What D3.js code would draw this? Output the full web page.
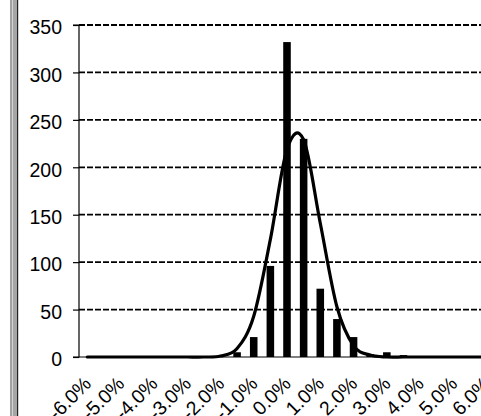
<!DOCTYPE html>
<html>
<head>
<meta charset="utf-8">
<script src="https://cdn.jsdelivr.net/npm/d3@7"></script>
<style>
html,body{margin:0;padding:0;background:#fff;}
svg{display:block;}
text{font-family:"Liberation Sans",Arial,sans-serif;font-size:19.5px;fill:#000;}
</style>
</head>
<body>
<script>
// Bin centres (return, %)
const categories = [-6.0,-5.5,-5.0,-4.5,-4.0,-3.5,-3.0,-2.5,-2.0,-1.5,-1.0,-0.5,0.0,0.5,1.0,1.5,2.0,2.5,3.0,3.5,4.0,4.5,5.0,5.5,6.0];
// Observed frequency per bin (bars)
const frequency = [0,0,0,0,0,0,0,0,0,5,21,96,332,230,72,40,21,3,5,2,0,0,0,0,0];
// Fitted normal curve read at each bin centre
const normalFit = [0,0,0,0,0,0,0,0,1,9,43,124,219,229,141,53,12,2,0,0,0,0,0,0,0];
// Axis ticks
const yTicks = [0,50,100,150,200,250,300,350];
const xTickLabels = ["-6.0%","-5.0%","-4.0%","-3.0%","-2.0%","-1.0%","0.0%","1.0%","2.0%","3.0%","4.0%","5.0%","6.0%"];

const W = 481, H = 416;
const svg = d3.select("body").append("svg").attr("width", W).attr("height", H);

const plotLeft = 79, plotRight = 495, plotTop = 25, plotBottom = 357;

const x = d3.scaleBand().domain(categories).range([plotLeft, plotRight]).paddingInner(0).paddingOuter(0);
const y = d3.scaleLinear().domain([0, 350]).range([plotBottom, plotTop]);
const cx = d => x(d) + x.bandwidth() / 2;

// left frame
svg.append("line").attr("x1",11).attr("x2",11).attr("y1",0).attr("y2",H).attr("stroke","#444").attr("stroke-width",1);
svg.append("rect").attr("x",12.5).attr("y",0).attr("width",4.5).attr("height",H).attr("fill","#a6a6a6");
svg.append("line").attr("x1",17.6).attr("x2",17.6).attr("y1",0).attr("y2",H).attr("stroke","#222").attr("stroke-width",1.2);

// gridlines
svg.append("g").selectAll("line").data(yTicks.filter(t => t > 0)).join("line")
  .attr("x1", plotLeft).attr("x2", plotRight)
  .attr("y1", d => y(d)).attr("y2", d => y(d))
  .attr("stroke", "#000").attr("stroke-width", 1.8).attr("stroke-dasharray", "6,2");

// y axis
const yAxis = d3.axisLeft(y).tickValues(yTicks).tickSize(6).tickPadding(11).tickFormat(d3.format("d"));
const gy = svg.append("g").attr("transform", `translate(${plotLeft},0)`).call(yAxis);
gy.select(".domain").attr("stroke","#000").attr("stroke-width",1.2).attr("d", `M-6,${plotBottom}H0V${plotTop}H-6`);
gy.selectAll(".tick line").attr("stroke","#000").attr("stroke-width",1.2);
gy.selectAll(".tick text").attr("dy", "0.45em");
gy.attr("font-family", null).attr("font-size", null);

// x axis line
svg.append("line").attr("x1", plotLeft).attr("x2", plotRight).attr("y1", plotBottom).attr("y2", plotBottom)
  .attr("stroke","#000").attr("stroke-width",1.2);

// bars
const barW = x.bandwidth() / 2.2;
svg.append("g").selectAll("rect").data(categories.map((c, i) => ({c, v: frequency[i]}))).join("rect")
  .attr("x", d => cx(d.c) - barW / 2)
  .attr("width", barW)
  .attr("y", d => y(d.v))
  .attr("height", d => y(0) - y(d.v))
  .attr("fill", "#000");

// normal curve
const line = d3.line().x(d => cx(d.c)).y(d => y(d.v)).curve(d3.curveCardinal.tension(0));
svg.append("path").datum(categories.map((c, i) => ({c, v: normalFit[i]})))
  .attr("d", line).attr("fill","none").attr("stroke","#000").attr("stroke-width",3.2)
  .attr("stroke-linejoin","round").attr("stroke-linecap","round");

// x tick labels (every other bin)
const labelCats = categories.filter((c, i) => i % 2 === 0);
svg.append("g").selectAll("text").data(labelCats).join("text")
  .attr("transform", (d, i) => `translate(${cx(d) + 5},${plotBottom + 28}) rotate(-45)`)
  .attr("text-anchor", "end")
  .text((d, i) => xTickLabels[i]);
</script>
</body>
</html>
